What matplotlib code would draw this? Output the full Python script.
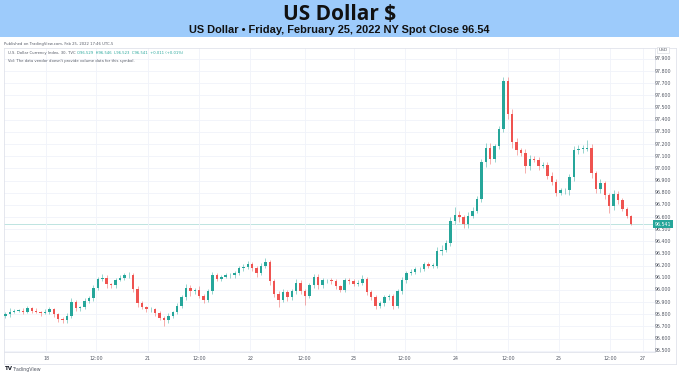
import numpy as np
import matplotlib
matplotlib.use("Agg")
import matplotlib.pyplot as plt
from matplotlib.patches import Rectangle

# hourly closes (Feb 17 afternoon -> Feb 25 close)
closes = [
    95.80, 95.82, 95.83, 95.83, 95.82, 95.85, 95.83, 95.82, 95.81, 95.82,
    95.84, 95.80, 95.76, 95.75, 95.79, 95.90, 95.85, 95.86, 95.91, 95.93,
    96.02, 96.09, 96.10, 96.05, 96.04, 96.08, 96.10, 96.12, 96.12, 96.01,
    95.89, 95.86, 95.84, 95.84, 95.81, 95.77, 95.75, 95.79, 95.82, 95.87,
    95.94, 96.02, 95.99, 96.00, 95.95, 95.92, 95.99, 96.12, 96.09, 96.11,
    96.12, 96.12, 96.14, 96.18, 96.19, 96.21, 96.18, 96.14, 96.20, 96.23,
    96.07, 95.97, 95.92, 95.98, 95.94, 95.99, 96.06, 95.99, 95.95, 96.04,
    96.11, 96.04, 96.08, 96.08, 96.07, 96.03, 96.00, 96.08, 96.07, 96.05,
    96.06, 96.09, 95.98, 95.94, 95.87, 95.89, 95.94, 95.95, 95.87, 95.99,
    96.08, 96.14, 96.15, 96.17, 96.17, 96.21, 96.20, 96.20, 96.32, 96.33,
    96.39, 96.57, 96.62, 96.60, 96.54, 96.61, 96.65, 96.75, 97.05, 97.17,
    97.08, 97.18, 97.32, 97.72, 97.45, 97.22, 97.15, 97.13, 97.02, 97.08,
    97.07, 97.02, 97.03, 96.94, 96.89, 96.80, 96.82, 96.82, 96.93, 97.15,
    97.16, 97.16, 97.17, 96.96, 96.83, 96.88, 96.78, 96.69, 96.79, 96.74,
    96.67, 96.61, 96.541,
]
first_open = 95.79

wick_up = [
    0.02, 0.03, 0.01, 0.01, 0.02, 0.02, 0.01, 0.02, 0.01, 0.02,
    0.02, 0.01, 0.01, 0.02, 0.02, 0.03, 0.02, 0.01, 0.02, 0.02,
    0.02, 0.02, 0.03, 0.02, 0.01, 0.02, 0.02, 0.02, 0.03, 0.02,
    0.02, 0.02, 0.01, 0.02, 0.01, 0.02, 0.02, 0.02, 0.01, 0.02,
    0.02, 0.03, 0.02, 0.02, 0.03, 0.02, 0.02, 0.03, 0.02, 0.01,
    0.02, 0.02, 0.02, 0.02, 0.02, 0.03, 0.02, 0.02, 0.02, 0.03,
    0.02, 0.02, 0.02, 0.03, 0.02, 0.02, 0.03, 0.02, 0.02, 0.02,
    0.02, 0.02, 0.02, 0.01, 0.02, 0.02, 0.01, 0.02, 0.02, 0.02,
    0.02, 0.03, 0.02, 0.02, 0.02, 0.02, 0.02, 0.02, 0.02, 0.02,
    0.03, 0.02, 0.02, 0.02, 0.02, 0.02, 0.02, 0.02, 0.03, 0.04,
    0.02, 0.03, 0.06, 0.03, 0.02, 0.03, 0.03, 0.02, 0.03, 0.04,
    0.04, 0.02, 0.03, 0.03, 0.03, 0.04, 0.03, 0.02, 0.03, 0.03,
    0.02, 0.02, 0.02, 0.02, 0.03, 0.02, 0.02, 0.02, 0.02, 0.03,
    0.03, 0.03, 0.06, 0.03, 0.02, 0.03, 0.02, 0.02, 0.03, 0.02,
    0.02, 0.01, 0.005,
]
wick_down = [
    0.02, 0.02, 0.01, 0.01, 0.02, 0.01, 0.02, 0.01, 0.02, 0.01,
    0.02, 0.02, 0.02, 0.02, 0.02, 0.02, 0.02, 0.02, 0.02, 0.02,
    0.02, 0.02, 0.02, 0.03, 0.02, 0.02, 0.01, 0.02, 0.02, 0.03,
    0.03, 0.02, 0.02, 0.02, 0.02, 0.02, 0.05, 0.02, 0.02, 0.02,
    0.02, 0.02, 0.04, 0.02, 0.02, 0.03, 0.02, 0.02, 0.02, 0.02,
    0.01, 0.02, 0.02, 0.02, 0.02, 0.02, 0.02, 0.03, 0.02, 0.02,
    0.03, 0.03, 0.06, 0.02, 0.03, 0.02, 0.02, 0.02, 0.07, 0.02,
    0.02, 0.03, 0.02, 0.02, 0.02, 0.02, 0.02, 0.02, 0.02, 0.02,
    0.02, 0.02, 0.02, 0.02, 0.03, 0.02, 0.02, 0.02, 0.03, 0.02,
    0.02, 0.02, 0.02, 0.02, 0.02, 0.01, 0.02, 0.02, 0.02, 0.03,
    0.02, 0.03, 0.03, 0.04, 0.03, 0.03, 0.02, 0.02, 0.03, 0.04,
    0.04, 0.03, 0.02, 0.02, 0.04, 0.05, 0.04, 0.03, 0.06, 0.03,
    0.02, 0.03, 0.02, 0.03, 0.03, 0.03, 0.02, 0.03, 0.04, 0.03,
    0.03, 0.03, 0.02, 0.04, 0.03, 0.03, 0.03, 0.06, 0.03, 0.03,
    0.02, 0.02, 0.005,
]

tick_pos = [9.3, 20.6, 32.4, 44.0, 55.6, 67.9, 79.0, 90.6, 102.2, 114.0, 125.6, 137.2, 144.7]
tick_labels = ["18", "12:00", "21", "12:00", "22", "12:00", "23", "12:00",
               "24", "12:00", "25", "12:00", "27"]
price_ticks = np.round(np.arange(95.5, 97.95, 0.1), 1)
last_price = 96.541

UP = "#26a69a"
DOWN = "#ef5350"
GRID = "#f0f3fa"
TXT = "#555a66"

W, H = 679, 378
fig = plt.figure(figsize=(W / 100, H / 100), dpi=100)
fig.patch.set_facecolor("white")


def fx(px):
    return px / W


def fy(py):
    return 1 - py / H


# header band
band = fig.add_axes([0, fy(37), 1, 37 / H])
band.set_axis_off()
band.add_patch(Rectangle((0, 0), 1, 1, transform=band.transAxes,
                         facecolor="#9dcbfb", edgecolor="none"))
fig.text(0.5, fy(15), "US Dollar $", ha="center", va="center",
         fontsize=15, fontweight="bold", family="Open Sans", color="#111111")
fig.text(0.5, fy(30), "US Dollar \u2022 Friday, February 25, 2022 NY Spot Close 96.54",
         ha="center", va="center", fontsize=7.9, fontweight="bold",
         family="Liberation Sans", color="#111111")

fig.text(fx(4), fy(44), "Published on TradingView.com, Feb 25, 2022 17:46 UTC-5",
         ha="left", va="center", fontsize=2.7, color=TXT)

# outer frame of the chart
frame = fig.add_axes([fx(4), fy(364), fx(672), (364 - 48) / H])
frame.set_xticks([])
frame.set_yticks([])
frame.patch.set_alpha(0)
for s in frame.spines.values():
    s.set_color("#e0e3eb")
    s.set_linewidth(0.6)

# main price pane
ax = fig.add_axes([fx(4), fy(352), fx(651), (352 - 48) / H])
ax.set_facecolor("white")

opens = [first_open] + closes[:-1]
n = len(closes)
for i in range(n):
    o, c = opens[i], closes[i]
    col = UP if c >= o else DOWN
    hi = max(o, c) + wick_up[i]
    lo = min(o, c) - wick_down[i]
    ax.vlines(i, lo, hi, color=col, linewidth=0.6, alpha=0.55, zorder=2)
    ax.bar(i, max(abs(c - o), 0.004), bottom=min(o, c), width=0.55,
           color=col, linewidth=0, zorder=3)

ax.axhline(last_price, color=UP, linewidth=0.6, alpha=0.35, zorder=1)

ax.set_xlim(-0.3, 147.4)
ax.set_ylim(95.49, 97.99)
ax.set_yticks(price_ticks)
ax.set_xticks(tick_pos)
ax.grid(True, color=GRID, linewidth=0.6)
ax.tick_params(axis="both", length=0, labelleft=False, labelbottom=False)
for s in ax.spines.values():
    s.set_color("#e0e3eb")
    s.set_linewidth(0.6)

# price scale labels
for p in price_ticks:
    ax.text(1.0 + 8 / 651, p, f"{p:.3f}", transform=ax.get_yaxis_transform(),
            ha="center", va="center", fontsize=3.4, color=TXT)
ax.text(1.0 + 8 / 651, 97.99, "USD", transform=ax.get_yaxis_transform(),
        ha="center", va="top", fontsize=3.2, color=TXT,
        bbox=dict(boxstyle="square,pad=0.3", facecolor="white",
                  edgecolor="#d1d4dc", linewidth=0.4))
ax.text(1.0 + 8 / 651, last_price, f"{last_price:.3f}",
        transform=ax.get_yaxis_transform(), ha="center", va="center",
        fontsize=3.4, color="white", zorder=10,
        bbox=dict(boxstyle="square,pad=0.35", facecolor=UP, edgecolor="none"))

# time scale labels
for t, lab in zip(tick_pos, tick_labels):
    ax.text(t, -6 / 304, lab, transform=ax.get_xaxis_transform(),
            ha="center", va="center", fontsize=3.4, color=TXT)

# legend lines
ax.text(4 / 651, 1 - 5 / 304, "U.S. Dollar Currency Index, 30, TVC", transform=ax.transAxes,
        ha="left", va="center", fontsize=2.7, color=TXT)
ax.text(73 / 651, 1 - 5 / 304, "O96.529  H96.546  L96.523  C96.541  +0.011 (+0.01%)",
        transform=ax.transAxes, ha="left", va="center", fontsize=2.7, color=UP)
ax.text(4 / 651, 1 - 13 / 304, "Vol: The data vendor doesn't provide volume data for this symbol.",
        transform=ax.transAxes, ha="left", va="center", fontsize=2.7, color=TXT)

fig.text(fx(5), fy(369), "TV", ha="left", va="center", fontsize=4,
         fontweight="bold", color="#131722")
fig.text(fx(13), fy(369), "TradingView", ha="left", va="center", fontsize=3.4,
         color=TXT)

fig.savefig("out.png", dpi=100, facecolor="white")
